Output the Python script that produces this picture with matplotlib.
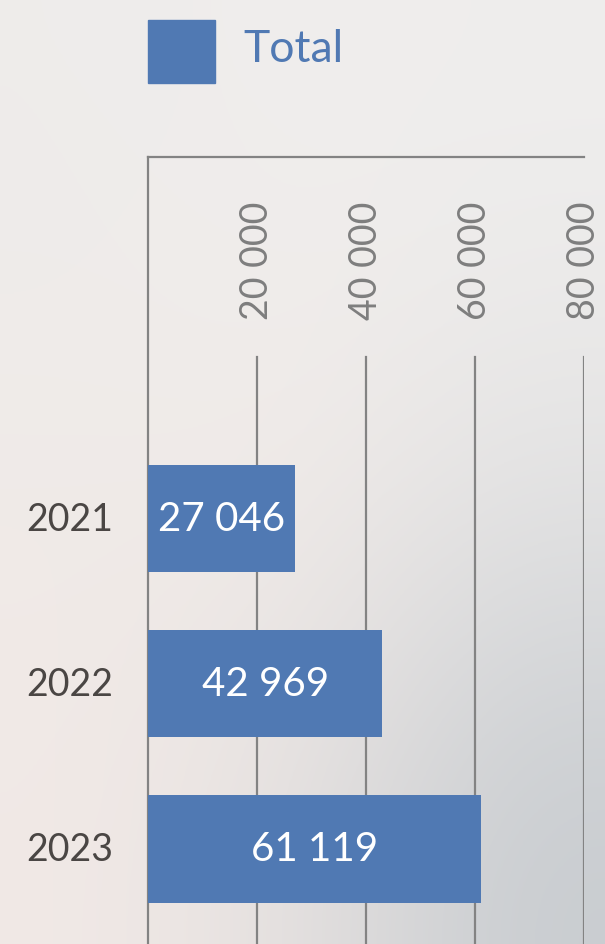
import numpy as np
import matplotlib.pyplot as plt
from matplotlib.patches import Rectangle
from matplotlib.colors import to_rgb
import matplotlib.transforms as mtransforms

plt.rcParams['font.family'] = ['Lato', 'DejaVu Sans']

# data
years = ['2021', '2022', '2023']
totals = [27046, 42969, 61119]
ticks = [20000, 40000, 60000, 80000]
tick_labels = ['20 000', '40 000', '60 000', '80 000']
legend_label = 'Total'

blue = '#5079B3'
grid_col = '#838383'

W, H = 605, 945
fig = plt.figure(figsize=(W / 100, H / 100), dpi=100)

# soft background gradient
bg = fig.add_axes([0, 0, 1, 1], zorder=-10)
corners = np.array([
    [to_rgb('#EEECEB'), to_rgb('#F0EEED'), to_rgb('#EFEEED')],
    [to_rgb('#F0EBE8'), to_rgb('#F2ECE9'), to_rgb('#E6E5E5')],
    [to_rgb('#F1E9E6'), to_rgb('#E4E0DF'), to_rgb('#C8CCD0')],
])
bg.imshow(corners, extent=[0, 1, 0, 1], aspect='auto', interpolation='bicubic')
bg.set_axis_off()

# main axes (pixel geometry from the reference)
left, top, right = 148, 158, 584
ax = fig.add_axes([left / W, 0, (right - left) / W, (H - top) / H])
ax.patch.set_alpha(0)
ax.set_xlim(0, 80000)
ax.set_ylim(2.576, -2.19)

y = np.arange(len(years))
ax.barh(y, totals, height=0.65, color=blue, zorder=3)

# gridlines start below the rotated tick labels
grid_top = (H - 358) / (H - top)
for t in ticks:
    ax.axvline(t, ymin=0, ymax=grid_top, color=grid_col, lw=1.6, zorder=1)

for t, lab in zip(ticks, tick_labels):
    ax.text(t, (H - 320) / (H - top), lab, rotation=90, ha='center', va='bottom',
            transform=mtransforms.blended_transform_factory(ax.transData, ax.transAxes),
            fontsize=27, color='#7E7E7E')

for yi, v in zip(y, totals):
    ax.text(v / 2, yi, f'{v:,}'.replace(',', ' '), ha='center', va='center',
            color='white', fontsize=29, zorder=4)

for yi, yr in zip(y, years):
    ax.text((70 - left) / (right - left), yi, yr, ha='center', va='center',
            transform=mtransforms.blended_transform_factory(ax.transAxes, ax.transData),
            fontsize=27, color='#4A4644')

for s in ['right', 'bottom']:
    ax.spines[s].set_visible(False)
for s in ['left', 'top']:
    ax.spines[s].set_color(grid_col)
    ax.spines[s].set_linewidth(1.6)
ax.set_xticks([])
ax.set_yticks([])

# legend
fig.patches.append(Rectangle((148 / W, 1 - 84 / H), 67 / W, 63 / H,
                             transform=fig.transFigure, color=blue))
fig.text(243 / W, 1 - 50 / H, legend_label, color=blue, fontsize=32,
         ha='left', va='center')

fig.savefig('out.png', dpi=100)
